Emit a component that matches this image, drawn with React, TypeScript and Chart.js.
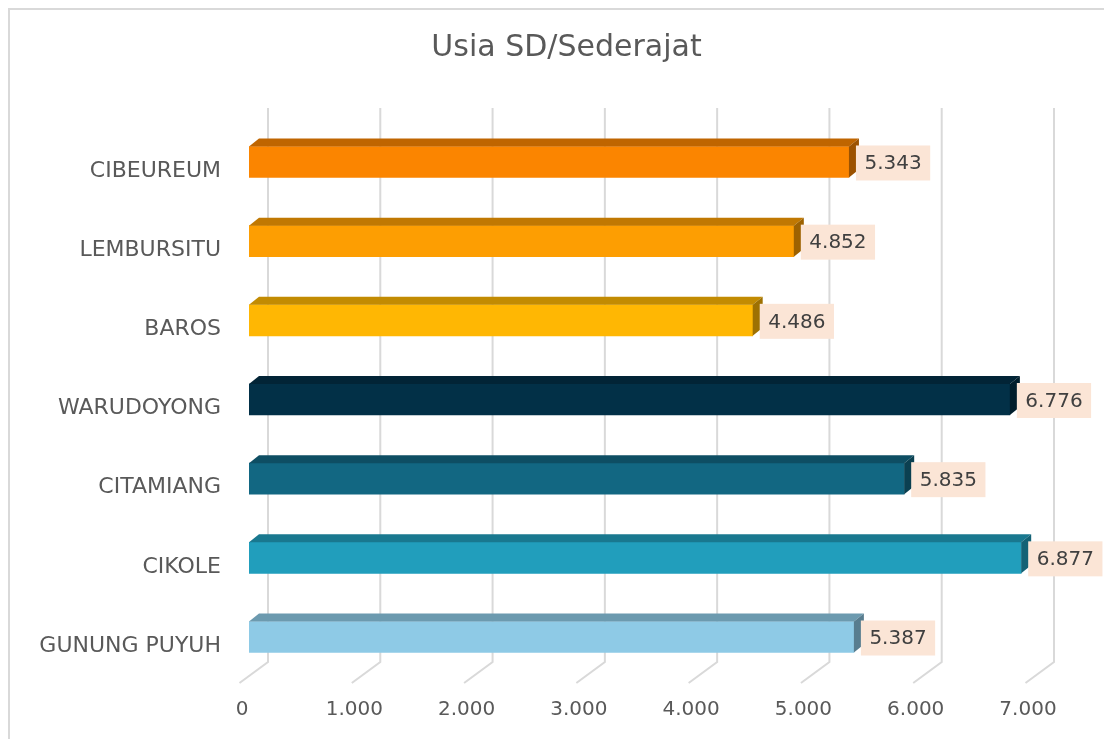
import React, { useEffect, useRef } from 'react';
import { Chart, registerables } from 'chart.js';

Chart.register(...registerables);

const chartTitle = 'Usia SD/Sederajat';
const categories = ['CIBEUREUM', 'LEMBURSITU', 'BAROS', 'WARUDOYONG', 'CITAMIANG', 'CIKOLE', 'GUNUNG PUYUH'];
const values = [5343, 4852, 4486, 6776, 5835, 6877, 5387];
const barColors = ['#FB8500', '#FD9E02', '#FFB703', '#023047', '#126782', '#219EBC', '#8ECAE6'];
const xMin = 0;
const xMax = 7000;
const xStep = 1000;

const FONT = "'DejaVu Sans', sans-serif";
const TEXT = '#595959';
const GRID = '#d9d9d9';

const fmt = (n: number) => String(Math.round(n)).replace(/\B(?=(\d{3})+(?!\d))/g, '.');

const shade = (hex: string, f: number) => {
  const h = hex.replace('#', '');
  const r = Math.round(parseInt(h.slice(0, 2), 16) * f);
  const g = Math.round(parseInt(h.slice(2, 4), 16) * f);
  const b = Math.round(parseInt(h.slice(4, 6), 16) * f);
  return `rgb(${r},${g},${b})`;
};

const DX = 10;
const DY = -8;

const framePlugin = {
  id: 'frame',
  afterLayout(chart: any) {
    // let the category labels extend left of the (narrow) axis box without clipping
    const y = chart.scales.y;
    if (y) y.left = 0;
  },
  beforeDraw(chart: any) {
    const { ctx } = chart;
    ctx.save();
    ctx.fillStyle = '#ffffff';
    ctx.fillRect(0, 0, chart.width, chart.height);
    ctx.strokeStyle = GRID;
    ctx.lineWidth = 2;
    ctx.beginPath();
    ctx.moveTo(9, chart.height + 10);
    ctx.lineTo(9, 9);
    ctx.lineTo(chart.width + 10, 9);
    ctx.stroke();
    ctx.restore();
  },
};

const grid3dPlugin = {
  id: 'grid3d',
  beforeDatasetsDraw(chart: any) {
    const { ctx, chartArea } = chart;
    const x = chart.scales.x;
    ctx.save();
    ctx.strokeStyle = GRID;
    ctx.lineWidth = 2;
    x.ticks.forEach((t: any) => {
      const px = x.getPixelForValue(t.value);
      ctx.beginPath();
      ctx.moveTo(px + 19, chartArea.top - 14.4);
      ctx.lineTo(px + 19, chartArea.bottom - 14.6);
      ctx.lineTo(px - 9.5, chartArea.bottom + 6.4);
      ctx.stroke();
    });
    ctx.restore();
  },
};

const bar3dPlugin = {
  id: 'bar3d',
  afterDatasetsDraw(chart: any) {
    const { ctx } = chart;
    const meta = chart.getDatasetMeta(0);
    ctx.save();
    meta.data.forEach((bar: any, i: number) => {
      const { x, y, base, height } = bar.getProps(['x', 'y', 'base', 'height'], true);
      const top = y - height / 2;
      const bottom = y + height / 2;
      const c = barColors[i];
      ctx.fillStyle = shade(c, 0.76);
      ctx.beginPath();
      ctx.moveTo(base, top);
      ctx.lineTo(base + DX, top + DY);
      ctx.lineTo(x + DX, top + DY);
      ctx.lineTo(x, top);
      ctx.closePath();
      ctx.fill();
      ctx.fillStyle = shade(c, 0.62);
      ctx.beginPath();
      ctx.moveTo(x, top);
      ctx.lineTo(x + DX, top + DY);
      ctx.lineTo(x + DX, bottom + DY);
      ctx.lineTo(x, bottom);
      ctx.closePath();
      ctx.fill();
    });
    ctx.font = `20px ${FONT}`;
    ctx.textBaseline = 'middle';
    ctx.textAlign = 'center';
    meta.data.forEach((bar: any, i: number) => {
      const { x, y } = bar.getProps(['x', 'y'], true);
      const label = fmt(values[i]);
      const w = ctx.measureText(label).width + 17;
      const h = 35;
      const left = x + 7;
      const cy = y + 1;
      ctx.fillStyle = '#FBE5D6';
      ctx.fillRect(left, cy - h / 2, w, h);
      ctx.fillStyle = '#404040';
      ctx.fillText(label, left + w / 2, cy + 1);
    });
    ctx.restore();
  },
};

export default function App() {
  const ref = useRef<HTMLCanvasElement | null>(null);

  useEffect(() => {
    document.body.style.margin = '0';
    if (!ref.current) return;
    const chart = new Chart(ref.current, {
      type: 'bar',
      data: {
        labels: categories,
        datasets: [
          {
            data: values,
            backgroundColor: barColors,
            borderWidth: 0,
            barThickness: 31,
          },
        ],
      },
      options: {
        indexAxis: 'y',
        responsive: false,
        animation: false,
        layout: { padding: { left: 98, right: 69, top: 9, bottom: 0 } },
        plugins: {
          legend: { display: false },
          tooltip: { enabled: false },
          title: {
            display: true,
            text: chartTitle,
            color: TEXT,
            font: { family: FONT, size: 30, weight: 'normal' },
            padding: { top: 21.5, bottom: 55.9 },
          },
        },
        scales: {
          x: {
            min: xMin,
            max: xMax,
            ticks: {
              stepSize: xStep,
              callback: (v: any) => fmt(Number(v)),
              color: TEXT,
              font: { family: FONT, size: 20 },
              padding: 21.4,
              labelOffset: -7,
              maxRotation: 0,
              autoSkip: false,
            },
            grid: { display: false, drawTicks: false },
            border: { display: false },
            afterFit: (s: any) => {
              s.height = 62.4;
            },
          },
          y: {
            ticks: {
              color: TEXT,
              font: { family: FONT, size: 22 },
              padding: 28,
              labelOffset: 9,
              autoSkip: false,
            },
            grid: { display: false, drawTicks: false },
            border: { display: false },
            afterFit: (s: any) => {
              s.width = 151;
            },
          },
        },
      } as any,
      plugins: [framePlugin, grid3dPlugin, bar3dPlugin],
    });
    return () => chart.destroy();
  }, []);

  return (
    <div style={{ width: 1104, height: 739, overflow: 'hidden' }}>
      <canvas ref={ref} width={1104} height={739} style={{ display: 'block' }} />
    </div>
  );
}
